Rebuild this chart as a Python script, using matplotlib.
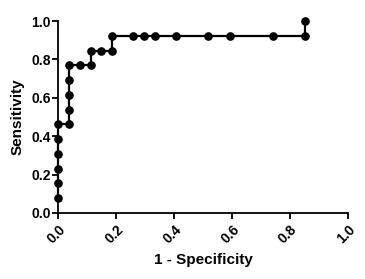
import matplotlib
matplotlib.use("Agg")
import matplotlib.pyplot as plt

plt.rcParams['font.family'] = ['Liberation Sans', 'DejaVu Sans']
plt.rcParams['font.weight'] = 'bold'

fpr = [0, 0, 0, 0, 0, 0, 1/27, 1/27, 1/27, 1/27, 1/27, 2/27, 3/27, 3/27, 4/27, 5/27,
       5/27, 7/27, 8/27, 9/27, 11/27, 14/27, 16/27, 20/27, 23/27, 23/27]
sens = [1/13, 2/13, 3/13, 4/13, 5/13, 6/13, 6/13, 7/13, 8/13, 9/13, 10/13, 10/13, 10/13,
        11/13, 11/13, 11/13, 12/13, 12/13, 12/13, 12/13, 12/13, 12/13, 12/13, 12/13, 12/13, 1.0]
ticks = [0.0, 0.2, 0.4, 0.6, 0.8, 1.0]
tick_labels = ["0.0", "0.2", "0.4", "0.6", "0.8", "1.0"]

fig = plt.figure(figsize=(3.65, 2.79), dpi=100)
ax = fig.add_axes([0.160, 0.2366, 0.793, 0.688])
ax.plot(fpr, sens, color='black', lw=1.6, marker='o', markersize=5.2, clip_on=False, zorder=3)
ax.set_xlim(0, 1)
ax.set_ylim(0, 1)
ax.spines['top'].set_visible(False)
ax.spines['right'].set_visible(False)
for s in ['left', 'bottom']:
    ax.spines[s].set_linewidth(1.3)
ax.set_xticks(ticks)
ax.set_xticklabels(tick_labels, rotation=45, ha='right', va='top', rotation_mode='anchor', fontsize=10, fontweight='bold')
ax.set_yticks(ticks)
ax.set_yticklabels(tick_labels, fontsize=10, fontweight='bold')
ax.tick_params(axis='y', direction='out', length=4, width=1.3, pad=1.5)
ax.tick_params(axis='x', direction='out', length=4, width=1.3, pad=3)
ax.set_xlabel("1 - Specificity", fontsize=11, fontweight='bold', labelpad=5)
ax.set_ylabel("Sensitivity", fontsize=11, fontweight='bold', labelpad=5)
fig.savefig("out.png", dpi=100)
